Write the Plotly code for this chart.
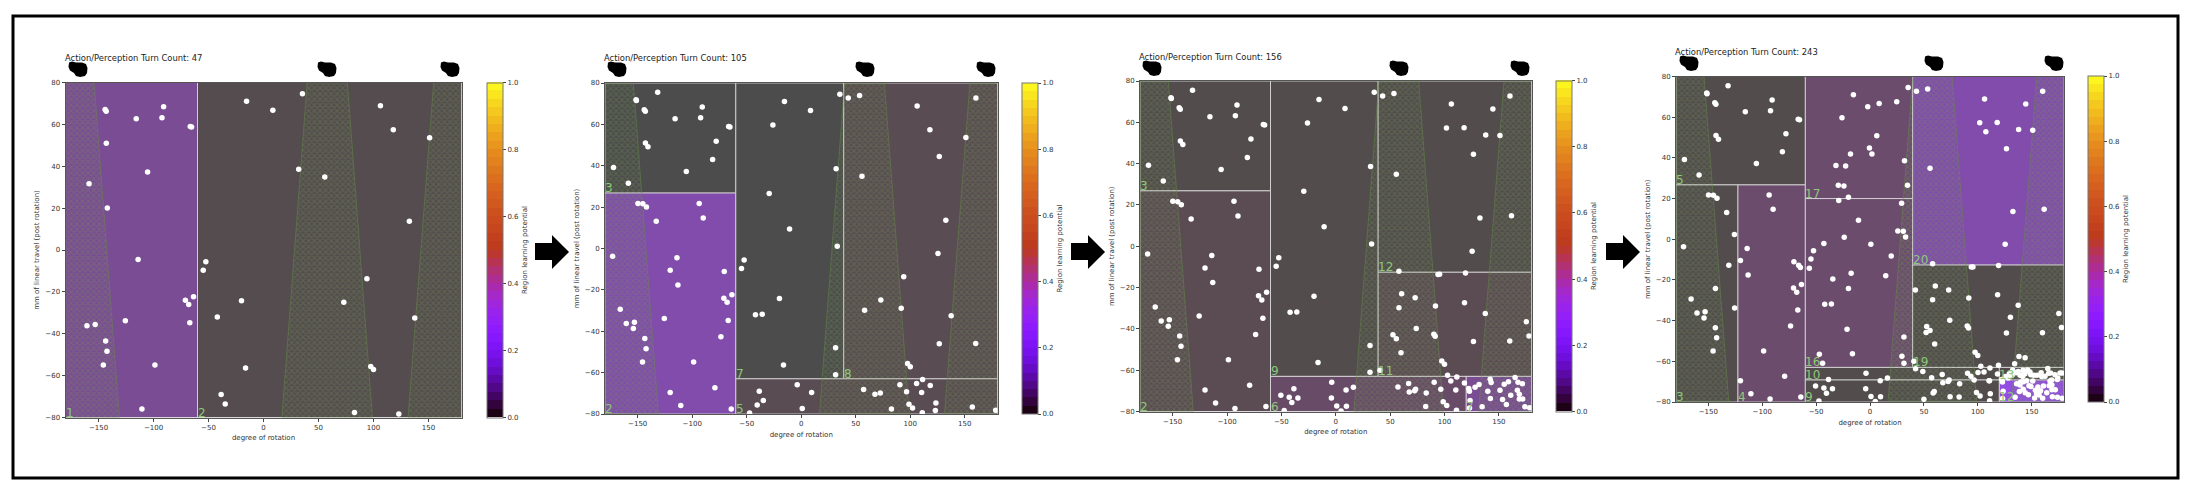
import math
import plotly.graph_objects as go

W = 2190
H = 494

# points are cumulative, each turn count adds to the ones before
x_47 = [-15.4, 8.5, 35.4, -144, -143, -90.8, -115.7, -92.3, -66.6, -65.4, -142.9, 106.3, 118, 151, 32, 55.7,
        -105.4, -158.6, -142, 132.6, -114, -52.4, -54.8, 94, -63.6, -71, -68, -20, 73, -42, 137.5, -125.6,
        -67, -160.5, -153, -143.5, -142.3, -145.6, -98.7, -16.3, 97.5, 100, -38.5, -34.8, -110.5, 82.7, 123]
y_47 = [71, 66.7, 74.6, 67.1, 66.3, 68.4, 62.7, 63.2, 59, 58.7, 51, 68.9, 57.4, 53.6, 38.6, 34.9,
        37.2, 31.6, 20.1, 13.7, -4.5, -5.6, -9.7, -13.7, -22.3, -24, -26, -24.2, -24.9, -32, -32.5, -33.8,
        -34.8, -36.2, -35.6, -43.5, -48.4, -54.9, -54.9, -56.3, -55.6, -57.1, -69, -73.5, -75.9, -77.6, -78.3]

x_105 = [-131.7, -151.5, -151.2, -140.6, -78, -81.3, -172.2, -149.8, -145.3, -93.6, -89.9, -133, -173, -120.2,
         -113.1, -70.6, -166, -154, -73.7, -26, 43.1, 53.5, 126.6, 160.2, -29.4, -10.7, 33, 125.4, 58.1, 91.7,
         -35.8, 31.5, 126.6, 160, 31.5, -120.2, -79.2, -64.2, -47.4, -3.7, 9.5, -40.4, 0.9, 57.2, 67.6, 72.5,
         90.5, 96.6, 105.8, 111.3, 118.3, 110.4, 98.8, 102.1, 111, 123.5, 156.9, 178.3]
y_105 = [75.5, 71.9, 71.5, 49.2, 51.9, 43, 39.2, 21.8, 21.6, 21.8, 14.7, 13.2, -3.7, -10.5,
         -17.6, -11.1, -29.4, -38.7, -42.7, 59.7, 72.7, 73.9, 44.5, 72.7, 26.6, 9.4, 1.1, -2.4, -29.8, -28.9,
         -31.8, -48, -46.1, -45.9, -61, -69.6, -67.3, -77.6, -79.5, -65.9, -69.6, -75.7, -77.3, -68.1, -70.5, -69.9,
         -65.9, -69.2, -65.2, -63.3, -66.2, -69.6, -75.3, -77.1, -79.4, -74.7, -76.6, -78.2]

x_156 = [144.5, 101.8, 137.9, 161.6, 58.1, 119.3, 60.6, 118.4, 175.2, 177.7, 52.6, 55.7, 74, 90.2, 91.4, 60,
         40.7, 67, 73.4, 83.2, 102.8, 122.3, 122.9, 128.1, 131.8, 134.6, 139.8, 142, 142.9, 142.2, 151, 153.4,
         154.9, 158.8, 160.9, 164.9, 167.6, 167, 168.8, 171.6, 168.8, 171.9, 173.9, -50.5, -42.8, -4, 4.9, 9.8,
         16.2, -92.7, 95.5]
y_156 = [66.5, 57.3, 53.9, 14.8, -12.1, -12.9, -23, -27.3, -36.5, -43.4, -42.9, -44.8, -39.8, -42.6, -43.6, -51.5,
         -60, -66.5, -69.2, -71, -62.4, -68.9, -70.2, -68.2, -66.9, -77.7, -70.2, -64.4, -66, -73.7, -69.7, -74.2,
         -66.8, -65.6, -72.1, -63.5, -65.8, -69.7, -71.6, -66.6, -74, -74, -77.7, -72.1, -73.1, -73.5, -79.7, -77.4,
         -68.2, -78.5, -13.6]

x_243 = [-2.1, 24.8, 6.3, -0.5, 1.8, -18.1, -31.6, -22.6, -24.2, 34.8, -20, -29, 29.3, -23.9, 25.8, 30.9, -42.8,
         0.8, -56.3, 19.7, -17.5, 14.6, -34.5, -21.3, -125.8, -131, -143.4, -66.2, -64.6, 107.5, 52.1, 130.3, 42.1,
         -47, -44, 29.6, 42.3, 49, 50, 59.6, 58.6, 74.3, 93.6, 100.2, 119.2, 110.9, 111.6, 134.2, 138.2, 143.9,
         132.4, 135.5, 139.2, 146.3, 148.4, 143.8, 141.7, 159.3, 173.8, 176.3, 162.4, 142.3, 139.2, 138.6, 145.4,
         149.4, 154.6, 160.2, 158.3, 168.6, 169.2, 129.2, 137.5, 125.5, 149.2, 136, 147.5, 155.8, 164, 152, 178.2,
         174.2, 165.8, 147, 166.2, 152.7, 144]
y_243 = [65.1, 67.6, 50.9, 44.8, 41.9, 41.9, 36.2, 36, 26.2, 26.5, 20.6, 19, 17.7, 1, 4.1, 3.9, -2.1,
         -2.5, -14.2, -8.2, -16.7, -18, -19.5, -44.2, 2.3, -12.8, -24.2, -12.8, -13.9, 52.9, -45.8, -38.3, -24.9,
         -56.5, -61, -57.5, -63.7, -65, -78.7, -74.8, -75.6, -77.4, -67.4, -65.5, -61.9, -69.6, -75.9, -61.2, -57.6, -58.3,
         -64.3, -65.6, -66.8, -64.3, -65.3, -66.1, -67.5, -67.5, -68.9, -65.7, -67.3, -70, -71.6, -74.9, -69.5,
         -72.4, -76, -78.2, -74.5, -69.2, -77.4, -66.1, -65, -67.5, -66.6, -71, -72, -72.6, -75.5, -66.8, -65.8,
         -68.2, -65.9, -76.4, -72, -78, -75.5]

# (x0, x1, y0, y1, learning potential, region number)
regions_47 = [(-180, -60, -80, 80, 0.065, 1), (-60, 180, -80, 80, 0.002, 2)]
regions_105 = [(-180, -60, 26.8, 80, 0.0, 3), (-180, -60, -80, 26.8, 0.09, 2), (-60, 39, -63, 80, 0.0, 7),
               (39, 180, -63, 80, 0.006, 8), (-60, 180, -80, -63, 0.006, 5)]
regions_156 = [(-180, -60, 26.8, 80, 0.001, 3), (-180, -60, -80, 26.8, 0.008, 2), (-60, 39, -63, 80, 0.001, 9),
               (39, 180, -12.6, 80, 0.001, 12), (39, 180, -63, -12.6, 0.008, 11), (-60, 120, -80, -63, 0.025, 6),
               (120, 180, -80, -63, 0.065, 7)]
regions_243 = [(-180, -60, 26.7, 80, 0.001, 5), (-180, -122.5, -80, 26.7, 0.001, 3), (-122.5, -60, -80, 26.7, 0.03, 4),
               (-60, 39.6, 20, 80, 0.03, 17), (-60, 39.6, -63, 20, 0.03, 16), (39.6, 180, -12.7, 80, 0.09, 20),
               (39.6, 180, -63, -12.7, 0.001, 19), (-60, 120, -69.2, -63, 0.001, 10), (120, 180, -69.2, -63, 0.001, 13),
               (-60, 120, -80, -69.2, 0.001, 9), (120, 180, -80, -69.2, 0.16, 12)]

# hatched bands, edges at y=80 and y=-80
band_left_top = [-180, 39.7, 154.7]
band_right_top = [-154, 76.3, 180]
band_left_bottom = [-180, 16.7, 131.4]
band_right_bottom = [-131, 99, 180]

x_ticks = [-150, -100, -50, 0, 50, 100, 150]
y_ticks = [-80, -60, -40, -20, 0, 20, 40, 60, 80]
cbar_ticks = [0.0, 0.2, 0.4, 0.6, 0.8, 1.0]
turn_counts = [47, 105, 156, 243]


def gnuplot(v):
    r = math.sqrt(v)
    g = v ** 3
    b = max(0.0, math.sin(2 * math.pi * v))
    return int(r * 255), int(g * 255), int(b * 255)


# stepped colour scale for the colour bars, a bit washed out towards the top
levels = 40
colorscale = []
for i in range(levels):
    v = (i + 0.5) / levels
    wash = 0.12 * min(1, v * 3)
    r, g, b = [int(c * (1 - wash) + 255 * wash) for c in gnuplot(v)]
    colorscale.append([i / levels, f"rgb({r},{g},{b})"])
    colorscale.append([(i + 1) / levels, f"rgb({r},{g},{b})"])

# pixel boxes of the panels: plot left, right, top, bottom, colour bar left, title y, blob y, blob xs
panels = [
    (65.5, 461.5, 82.5, 417.5, 487, 58, 69, (78, 327, 450)),
    (605, 997.5, 83, 414, 1022, 58, 69, (617, 865, 986)),
    (1140, 1531.5, 81, 411.5, 1556, 57, 68, (1152, 1399, 1520)),
    (1676, 2064, 76.5, 402, 2088, 52, 63, (1689, 1934, 2054)),
]
all_regions = [regions_47, regions_105, regions_156, regions_243]
arrow_lefts = [535, 1071, 1606]

blob = [(-9, -6.5), (-6, -7.5), (-2, -6.5), (4, -6.5), (8, -5), (9.5, -1), (9, 4), (7, 7), (2, 8), (-2, 7),
        (-4, 4), (-8, 1.5), (-9.5, -2)]

fx = lambda px: px / W
fy = lambda py: 1 - py / H


def px_path(points):
    return "M " + " L ".join(f"{fx(a):.5f},{fy(b):.5f}" for a, b in points) + " Z"


fig = go.Figure()
layout = dict(
    width=W, height=H, margin=dict(l=0, r=0, t=0, b=0, autoexpand=False),
    paper_bgcolor="white", plot_bgcolor="white", showlegend=False,
    font=dict(family="DejaVu Sans", color="#333333", size=7),
)
shapes = []
annotations = []
px, py = list(x_47), list(y_47)
extras = [([], []), (x_105, y_105), (x_156, y_156), (x_243, y_243)]

for n, (l, r, t, b, cb, ty, by, bxs) in enumerate(panels):
    ax = "" if n == 0 else str(n + 1)
    xname, yname = "x" + ax, "y" + ax
    layout["xaxis" + ax] = dict(
        domain=[fx(l), fx(r)], anchor=yname, range=[-180, 180], tickvals=x_ticks, ticks="outside", ticklen=3,
        tickwidth=0.8, tickfont=dict(size=7), showgrid=False, zeroline=False, showline=True, mirror=True,
        linecolor="#555555", linewidth=1, title=dict(text="degree of rotation", font=dict(size=7), standoff=4),
    )
    layout["yaxis" + ax] = dict(
        domain=[fy(b), fy(t)], anchor=xname, range=[-80, 80], tickvals=y_ticks, ticks="outside", ticklen=3,
        tickwidth=0.8, tickfont=dict(size=7), showgrid=False, zeroline=False, showline=True, mirror=True,
        linecolor="#555555", linewidth=1,
        title=dict(text="mm of linear travel (post rotation)", font=dict(size=7), standoff=4),
    )

    for x0, x1, y0, y1, v, label in all_regions[n]:
        c = gnuplot(v)
        fig.add_trace(go.Scatter(
            x=[x0, x1, x1, x0, x0], y=[y0, y0, y1, y1, y0], xaxis=xname, yaxis=yname, mode="lines", fill="toself",
            fillcolor=f"rgba({c[0]},{c[1]},{c[2]},0.7)", line=dict(color="rgba(225,225,225,0.8)", width=1),
            hoverinfo="skip",
        ))
        annotations.append(dict(
            x=x0, y=y0, xref=xname, yref=yname, text=str(label), showarrow=False, xanchor="left", yanchor="bottom",
            borderpad=0, yshift=-3, xshift=-1, font=dict(size=12, color="#8cc878"),
        ))

    for i in range(3):
        fig.add_trace(go.Scatter(
            x=[band_left_top[i], band_right_top[i], band_right_bottom[i], band_left_bottom[i], band_left_top[i]],
            y=[80, 80, -80, -80, 80], xaxis=xname, yaxis=yname, mode="lines", fill="toself",
            fillcolor="rgba(0,0,0,0)", line=dict(color="rgba(100,140,70,0.7)", width=0.7),
            fillpattern=dict(shape="x", fgcolor="rgba(110,150,80,0.6)", bgcolor="rgba(0,0,0,0)", size=4, solidity=0.5),
            hoverinfo="skip",
        ))

    px += extras[n][0]
    py += extras[n][1]
    fig.add_trace(go.Scatter(
        x=list(px), y=list(py), xaxis=xname, yaxis=yname, mode="markers",
        marker=dict(color="white", size=5.5), hoverinfo="skip",
    ))

    # invisible point, only there to carry the colour bar
    fig.add_trace(go.Scatter(
        x=[0], y=[0], xaxis=xname, yaxis=yname, mode="markers", hoverinfo="skip",
        marker=dict(
            size=1, opacity=0, color=[0], cmin=0, cmax=1, colorscale=colorscale, showscale=True,
            colorbar=dict(
                x=fx(cb), xanchor="left", y=fy(b), yanchor="bottom", len=(b - t) / H, lenmode="fraction",
                thickness=16, thicknessmode="pixels", xpad=0, ypad=0, outlinecolor="#777777", outlinewidth=1,
                tickvals=cbar_ticks, tickformat=".1f", ticks="outside", ticklen=3, tickwidth=0.8,
                tickfont=dict(size=7),
                title=dict(text="Region learning potential", side="right", font=dict(size=7)),
            ),
        ),
    ))

    annotations.append(dict(
        x=fx(l - 2), y=fy(ty), xref="paper", yref="paper", text=f"Action/Perception Turn Count: {turn_counts[n]}",
        showarrow=False, xanchor="left", yanchor="middle", borderpad=0, font=dict(size=8.4, color="#222222"),
    ))
    for bx in bxs:
        shapes.append(dict(type="path", xref="paper", yref="paper", fillcolor="black", line=dict(width=0),
                           path=px_path([(bx + a, by + c) for a, c in blob])))

for a in arrow_lefts:
    shapes.append(dict(type="path", xref="paper", yref="paper", fillcolor="black", line=dict(width=0),
                       path=px_path([(a, 243), (a + 17, 243), (a + 17, 235), (a + 34, 252), (a + 17, 269),
                                     (a + 17, 260), (a, 260)])))

shapes.append(dict(type="rect", xref="paper", yref="paper", x0=fx(13), x1=fx(2178), y0=fy(478), y1=fy(16),
                   line=dict(color="black", width=3), fillcolor="rgba(0,0,0,0)"))

layout["shapes"] = shapes
layout["annotations"] = annotations
fig.update_layout(**layout)

fig.write_html("out.html", config=dict(displayModeBar=False),
               post_script="document.body.style.margin='0';document.body.style.overflow='hidden';")
